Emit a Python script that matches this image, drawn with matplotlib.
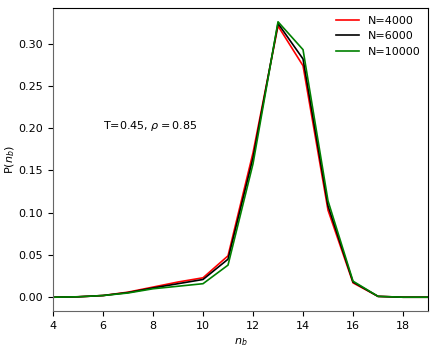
import matplotlib
matplotlib.use("Agg")
import matplotlib.pyplot as plt

nb = [4, 5, 6, 7, 8, 9, 10, 11, 12, 13, 14, 15, 16, 17, 18, 19]
p_4000 = [0.0, 0.0005, 0.002, 0.006, 0.012, 0.018, 0.023, 0.049, 0.171, 0.321, 0.274, 0.103, 0.017, 0.001, 0.0, 0.0]
p_6000 = [0.0, 0.0005, 0.002, 0.0055, 0.011, 0.016, 0.021, 0.045, 0.165, 0.324, 0.282, 0.108, 0.018, 0.001, 0.0, 0.0]
p_10000 = [0.0, 0.0005, 0.002, 0.005, 0.010, 0.013, 0.016, 0.038, 0.158, 0.326, 0.293, 0.114, 0.019, 0.001, 0.0, 0.0]

plt.rcParams["font.size"] = 8

fig = plt.figure(figsize=(4.36, 3.54), dpi=100)
ax = fig.add_axes([0.1216, 0.1215, 0.8601, 0.8559])

ax.plot(nb, p_4000, color="red", lw=1.2, label="N=4000")
ax.plot(nb, p_6000, color="black", lw=1.2, label="N=6000")
ax.plot(nb, p_10000, color="green", lw=1.2, label="N=10000")

ax.set_xlim(4, 19)
ax.set_xticks([4, 6, 8, 10, 12, 14, 16, 18])
ax.set_yticks([0.0, 0.05, 0.10, 0.15, 0.20, 0.25, 0.30])
ax.set_xlabel(r"$n_b$")
ax.set_ylabel(r"P($n_b$)", labelpad=1)
ax.text(6.0, 0.203, r"T=0.45, $\rho=0.85$", va="center", ha="left")
ax.legend(loc="upper right", frameon=False, borderaxespad=0.3)
for side in ("left", "bottom"):
    ax.spines[side].set_color("#666666")

fig.savefig("out.png", dpi=100)
